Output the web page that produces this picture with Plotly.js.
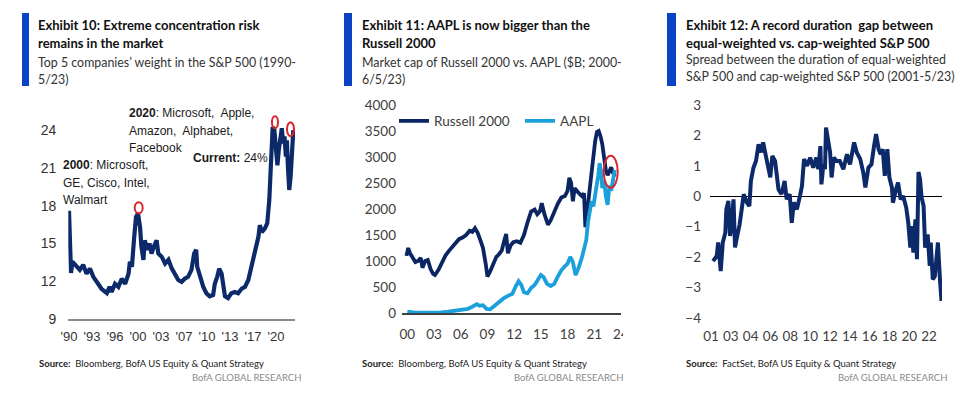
<!DOCTYPE html>
<html><head><meta charset="utf-8">
<script src="https://cdn.plot.ly/plotly-3.0.1.min.js"></script>
<style>html,body{margin:0;padding:0;background:#fff}#chart{width:971px;height:396px}</style>
</head><body><div id="chart"></div>
<script>
// ---------- Exhibit 10: Top 5 companies' weight in S&P 500 (%) ----------
const concYears = [1990.0,1990.15,1990.3,1990.5,1991.1,1991.6,1992.1,1992.6,1993.1,1993.6,1994.3,1994.8,1995.6,1996.0,1996.3,1996.8,1997.3,1997.8,1998.3,1998.8,1999.0,1999.3,1999.6,1999.9,2000.2,2000.5,2000.7,2001.0,2001.2,2001.6,2001.9,2002.2,2002.55,2002.95,2003.2,2003.7,2004.2,2004.7,2005.2,2005.65,2006.15,2006.65,2007.1,2007.6,2008.1,2008.5,2008.8,2008.95,2009.35,2009.85,2010.3,2010.8,2011.3,2011.55,2011.9,2012.2,2012.55,2012.8,2013.05,2013.5,2014.0,2014.5,2015.0,2015.5,2016.0,2016.5,2017.0,2017.5,2018.0,2018.2,2018.5,2018.95,2019.3,2019.6,2019.85,2020.1,2020.35,2020.6,2020.8,2021.0,2021.3,2021.45,2021.65,2021.85,2022.05,2022.2,2022.35,2022.55,2022.75,2022.95,2023.15];
const concWeight = [17.6,13.7,12.65,13.55,13.15,12.9,13.3,12.6,13.0,12.35,11.8,11.4,11.05,11.55,11.15,11.8,11.55,12.2,11.8,12.6,13.55,13.15,15.25,17.1,17.4,16.3,14.75,13.7,15.25,14.5,15.0,14.2,14.75,15.25,14.2,13.95,13.4,13.7,13.0,12.6,12.1,11.95,12.2,12.35,12.9,14.2,14.5,13.15,12.35,11.55,11.05,10.8,10.9,11.8,12.35,13.0,12.6,11.55,10.8,10.65,11.05,11.15,11.05,11.4,11.55,12.1,13.15,14.2,15.55,16.45,15.9,16.2,16.6,18.45,21.1,24.25,24.0,22.4,21.2,22.4,23.35,24.15,22.95,23.5,21.9,23.2,21.1,19.25,20.3,22.4,24.0];
const concTickVals = [1990,1993.4,1996.8,2000.2,2003.6,2007,2010.4,2013.8,2017.2,2020.6];
const concTickText = ["'90","'93","'96","'00","'03","'07","'10","'13","'17","'20"];
const concYTicks = [9,12,15,18,21,24];
const concHighlightYears = [2000.2,2020.1,2023.15];

// ---------- Exhibit 11: Market cap of Russell 2000 vs. AAPL ($B) ----------
const r2kYears = [1999.9,2000.1,2000.3,2000.6,2000.9,2001.2,2001.5,2001.7,2002.0,2002.3,2002.6,2002.9,2003.1,2003.5,2003.9,2004.3,2004.7,2005.0,2005.4,2005.8,2006.2,2006.6,2007.0,2007.3,2007.6,2007.9,2008.2,2008.5,2008.8,2009.0,2009.3,2009.7,2010.0,2010.3,2010.6,2010.9,2011.1,2011.3,2011.6,2011.9,2012.3,2012.7,2013.1,2013.5,2013.9,2014.3,2014.6,2014.9,2015.1,2015.4,2015.8,2016.1,2016.5,2016.9,2017.3,2017.7,2018.0,2018.2,2018.4,2018.6,2018.8,2019.0,2019.3,2019.6,2019.85,2020.0,2020.15,2020.35,2020.6,2020.9,2021.1,2021.3,2021.5,2021.7,2021.9,2022.1,2022.3,2022.5,2022.7,2022.9,2023.1,2023.3];
const r2kCap = [1100,1250,1150,1050,980,1000,1060,870,1000,1020,850,750,730,830,960,1110,1200,1260,1320,1420,1450,1500,1580,1560,1630,1540,1400,1250,950,700,800,950,1080,1130,1200,1400,1520,1150,1300,1360,1380,1350,1500,1740,1950,1990,1900,1960,2110,1900,1700,1780,1950,2100,2220,2250,2350,2600,2500,2150,2400,2350,2300,2250,2300,1650,1900,2150,2500,3100,3300,3480,3500,3400,3250,3000,2750,2650,2750,2800,2700,2620];
const aaplYears = [2000.0,2000.4,2000.9,2001.5,2002.2,2003.0,2003.8,2004.6,2005.2,2005.8,2006.3,2006.8,2007.3,2007.8,2008.1,2008.5,2008.9,2009.3,2009.8,2010.3,2010.8,2011.3,2011.8,2012.2,2012.5,2012.8,2013.1,2013.5,2013.9,2014.3,2014.7,2015.0,2015.3,2015.7,2016.1,2016.5,2016.9,2017.3,2017.7,2018.0,2018.3,2018.6,2018.9,2019.2,2019.6,2019.95,2020.1,2020.3,2020.5,2020.7,2020.9,2021.1,2021.3,2021.45,2021.6,2021.75,2021.9,2022.1,2022.3,2022.5,2022.7,2022.9,2023.1,2023.3];
const aaplCap = [25,15,8,8,6,6,10,25,40,60,65,80,120,170,140,150,80,70,140,220,280,330,370,520,610,540,400,380,480,540,650,730,690,560,520,560,700,820,900,950,1080,980,730,850,1060,1280,1400,1750,1950,2150,2050,2250,2400,2650,2880,2750,2400,2550,2250,2080,2450,2350,2550,2750];
const mcapTickVals = [2000,2003,2006,2009,2012,2015,2018,2021,2024];
const mcapTickText = ["00","03","06","09","12","15","18","21","24"];
const mcapYTicks = [0,500,1000,1500,2000,2500,3000,3500,4000];

// ---------- Exhibit 12: Duration spread, equal- vs cap-weighted S&P 500 ----------
const durYears = [2001.0,2001.36,2001.5,2001.75,2001.95,2002.2,2002.3,2002.5,2002.66,2002.8,2003.0,2003.15,2003.3,2003.6,2003.8,2004.0,2004.3,2004.55,2004.7,2004.95,2005.2,2005.45,2005.7,2005.9,2006.2,2006.6,2006.8,2007.07,2007.4,2007.7,2008.0,2008.2,2008.5,2008.7,2008.9,2009.2,2009.5,2009.7,2009.9,2010.2,2010.5,2010.8,2011.1,2011.3,2011.5,2011.6,2011.8,2011.95,2012.05,2012.3,2012.45,2012.6,2012.8,2013.1,2013.4,2013.75,2014.1,2014.4,2014.8,2015.06,2015.4,2015.7,2015.9,2016.2,2016.5,2016.75,2016.95,2017.2,2017.4,2017.6,2017.8,2018.05,2018.25,2018.5,2018.6,2018.9,2019.1,2019.35,2019.6,2019.9,2020.1,2020.3,2020.4,2020.6,2020.8,2020.95,2021.1,2021.25,2021.4,2021.6,2021.75,2022.0,2022.2,2022.3,2022.5,2022.7,2023.0,2023.2,2023.35];
const durSpread = [-2.13,-1.96,-1.52,-2.46,-1.52,-1.2,-0.43,-0.15,-1.3,-0.98,-0.1,-1.68,-1.41,-0.92,-0.43,0.07,-0.2,-0.32,0.5,0.94,1.16,1.71,1.44,1.77,1.27,0.62,1.33,1.16,0.23,0.07,0.5,-0.1,0.07,-0.87,-0.2,-0.43,0.01,0.34,1.22,1.0,1.27,0.94,1.27,0.89,1.65,0.39,1.05,0.89,2.26,1.82,1.44,0.62,1.27,1.16,1.16,0.89,1.38,1.05,1.77,1.44,1.22,0.78,0.29,0.94,1.05,1.65,2.04,1.55,1.38,1.55,0.67,1.55,0.62,0.29,-0.21,0.23,0.45,-0.1,0.01,-0.37,-0.87,-1.69,-0.98,-1.85,-0.76,-2.07,0.8,0.56,-0.04,-0.32,-1.69,-1.25,-2.29,-1.52,-2.73,-2.62,-1.52,-2.73,-3.44];
const durTickVals = [2000.8,2002.74,2004.68,2006.62,2008.56,2010.5,2012.44,2014.38,2016.32,2018.26,2020.2,2022.14];
const durTickText = ["01","03","04","06","08","10","12","14","16","18","20","22"];
const durYTicks = [-4,-3,-2,-1,0,1,2,3];

// ---------- layout helpers ----------
const W = 971, H = 396;
const px = x => x / W;
const py = y => 1 - y / H;
const NAVY = '#0c2a6a', NAVY2 = '#0b2462', LBLUE = '#1ba0dc', RED = '#d8262c', BAR = '#0b43c6';
const arial = 'Arial, "Liberation Sans", sans-serif';
const lato = 'Lato, "Open Sans", sans-serif';

function nearestVal(xs, ys, t) {
  let bi = 0;
  xs.forEach((v, i) => { if (Math.abs(v - t) < Math.abs(xs[bi] - t)) bi = i; });
  return [xs[bi], ys[bi]];
}

const traces = [
  {x: concYears, y: concWeight, xaxis: 'x', yaxis: 'y', type: 'scatter', mode: 'lines',
   line: {color: NAVY, width: 4.2}, showlegend: false, hoverinfo: 'skip'},
  {x: r2kYears, y: r2kCap, xaxis: 'x2', yaxis: 'y2', type: 'scatter', mode: 'lines', name: 'Russell 2000',
   line: {color: NAVY2, width: 3.8}, legend: 'legend', showlegend: true},
  {x: aaplYears, y: aaplCap, xaxis: 'x2', yaxis: 'y2', type: 'scatter', mode: 'lines', name: 'AAPL',
   line: {color: LBLUE, width: 3.8}, legend: 'legend2', showlegend: true},
  {x: durYears, y: durSpread, xaxis: 'x3', yaxis: 'y3', type: 'scatter', mode: 'lines',
   line: {color: NAVY, width: 4}, showlegend: false}
];

const ann = [];
function txt(x, y, text, opts) {
  ann.push(Object.assign({xref: 'paper', yref: 'paper', x: px(x), y: py(y), text: text,
    showarrow: false, xanchor: 'left', yanchor: 'middle', borderpad: 0,
    font: {family: lato, size: 12, color: '#222'}}, opts || {}));
}
function header(x0, l1, l2, s1, s2, subY) {
  txt(x0, 25, '<b>' + l1 + '</b>', {font: {family: lato, size: 13, color: '#111'}});
  txt(x0, 43, '<b>' + l2 + '</b>', {font: {family: lato, size: 13, color: '#111'}});
  txt(x0, subY[0], s1, {font: {family: lato, size: 12.4, color: '#333'}});
  txt(x0, subY[1], s2, {font: {family: lato, size: 12.4, color: '#333'}});
}
function footer(x0, xr, src) {
  txt(x0, 363, '<b>Source:</b>  ' + src, {font: {family: lato, size: 9.5, color: '#222'}});
  txt(xr, 377, 'BofA GLOBAL RESEARCH', {xanchor: 'right', font: {family: lato, size: 9.5, color: '#8a8a8a'}});
}
header(37, 'Exhibit 10: Extreme concentration risk', 'remains in the market',
  'Top 5 companies’ weight in the S&amp;P 500 (1990-', '5/23)', [62, 79]);
header(361, 'Exhibit 11: AAPL is now bigger than the', 'Russell 2000',
  'Market cap of Russell 2000 vs. AAPL ($B; 2000-', '6/5/23)', [62, 79]);
header(685, 'Exhibit 12: A record duration  gap between', 'equal-weighted vs. cap-weighted S&amp;P 500',
  'Spread between the duration of equal-weighted', 'S&amp;P 500 and cap-weighted S&amp;P 500 (2001-5/23)', [60, 77]);
footer(38, 302, 'Bloomberg, BofA US Equity &amp; Quant Strategy');
footer(361, 624, 'Bloomberg, BofA US Equity &amp; Quant Strategy');
footer(685, 948, 'FactSet, BofA US Equity &amp; Quant Strategy');

// Exhibit 10 call-outs
const cf = {family: arial, size: 12, color: '#1a1a1a'};
txt(62, 165, '<b>2000</b>: Microsoft,', {font: cf});
txt(62, 183, 'GE, Cisco, Intel,', {font: cf});
txt(62, 200, 'Walmart', {font: cf});
txt(128, 113, '<b>2020</b>: Microsoft,  Apple,', {font: cf});
txt(128, 131, 'Amazon,  Alphabet,', {font: cf});
txt(128, 148, 'Facebook', {font: cf});
txt(192, 158, '<b>Current:</b> 24%', {font: cf});

const shapes = [];
// blue header bars
[[22, 29], [344, 352], [667, 676]].forEach(b => shapes.push({type: 'rect', xref: 'paper', yref: 'paper',
  x0: px(b[0]), x1: px(b[1]), y0: py(86), y1: py(13), fillcolor: BAR, line: {width: 0}}));
// red highlight circles anchored on data points (offsets in pixels)
const concCircleOffsets = [[-3.3, 4.7, 0, 11], [-0.7, 5.3, -1.3, 10.7], [-6.3, 0.7, -6, 8]];
concHighlightYears.forEach((t, i) => {
  const p = nearestVal(concYears, concWeight, t), o = concCircleOffsets[i];
  shapes.push({type: 'circle', xref: 'x', yref: 'y', xsizemode: 'pixel', ysizemode: 'pixel',
    xanchor: p[0], yanchor: p[1], x0: o[0], x1: o[1], y0: o[2], y1: o[3], line: {color: RED, width: 2}});
});
const lastR = [r2kYears[r2kYears.length - 1], r2kCap[r2kCap.length - 1]];
shapes.push({type: 'circle', xref: 'x2', yref: 'y2', xsizemode: 'pixel', ysizemode: 'pixel',
  xanchor: lastR[0], yanchor: lastR[1], x0: -11, x1: 3, y0: -11, y1: 21, line: {color: RED, width: 2}});
// the right edge of exhibit 11 is cropped through its last tick label
shapes.push({type: 'rect', xref: 'paper', yref: 'paper', x0: px(623), x1: px(645), y0: py(346), y1: py(322),
  fillcolor: '#fff', line: {width: 0}, layer: 'above'});

const axBase = {showgrid: false, zeroline: false, ticks: '', fixedrange: true};
const layout = {
  width: W, height: H, margin: {l: 0, r: 0, t: 0, b: 0}, paper_bgcolor: '#fff', plot_bgcolor: 'rgba(0,0,0,0)',
  xaxis: Object.assign({}, axBase, {domain: [px(68.3), px(295)], range: [1989.9, 2023.4], anchor: 'y',
    showline: true, linecolor: '#8c8c8c', linewidth: 1.5, tickmode: 'array', tickvals: concTickVals, ticktext: concTickText,
    tickfont: {family: arial, size: 13, color: '#333'}, ticklabelstandoff: 5}),
  yaxis: Object.assign({}, axBase, {domain: [py(319), py(110)], range: [9, 25.6], anchor: 'x',
    tickmode: 'array', tickvals: concYTicks, tickfont: {family: arial, size: 14, color: '#333'}, ticklabelstandoff: 11}),
  xaxis2: Object.assign({}, axBase, {domain: [px(402), px(621.4)], range: [1999.4, 2024.05], anchor: 'y2',
    showline: true, linecolor: '#404040', linewidth: 1.5, tickmode: 'array', tickvals: mcapTickVals, ticktext: mcapTickText,
    tickfont: {family: lato, size: 13.5, color: '#404040'}, ticklabelstandoff: 8}),
  yaxis2: Object.assign({}, axBase, {domain: [py(313), py(105)], range: [0, 4000], anchor: 'x2',
    tickmode: 'array', tickvals: mcapYTicks, tickfont: {family: lato, size: 13.5, color: '#404040'}, ticklabelstandoff: 5}),
  xaxis3: Object.assign({}, axBase, {domain: [px(710), px(942)], range: [2000.7, 2023.4], anchor: 'y3',
    showline: false, tickmode: 'array', tickvals: durTickVals, ticktext: durTickText,
    tickfont: {family: lato, size: 13.5, color: '#404040'}, ticklabelstandoff: 8}),
  yaxis3: Object.assign({}, axBase, {domain: [py(318), py(105)], range: [-4, 3], anchor: 'x3',
    zeroline: true, zerolinecolor: '#000', zerolinewidth: 1.5,
    tickmode: 'array', tickvals: durYTicks, tickfont: {family: lato, size: 13.5, color: '#404040'}, ticklabelstandoff: 8}),
  legend: {x: px(394), y: py(121), xanchor: 'left', yanchor: 'middle', orientation: 'h', bgcolor: 'rgba(0,0,0,0)',
    borderwidth: 0, font: {family: lato, size: 13.5, color: '#404040'}},
  legend2: {x: px(520), y: py(121), xanchor: 'left', yanchor: 'middle', orientation: 'h', bgcolor: 'rgba(0,0,0,0)',
    borderwidth: 0, font: {family: lato, size: 13.5, color: '#404040'}},
  annotations: ann, shapes: shapes, hovermode: false
};
Plotly.newPlot('chart', traces, layout, {displayModeBar: false, staticPlot: true});
</script></body></html>
